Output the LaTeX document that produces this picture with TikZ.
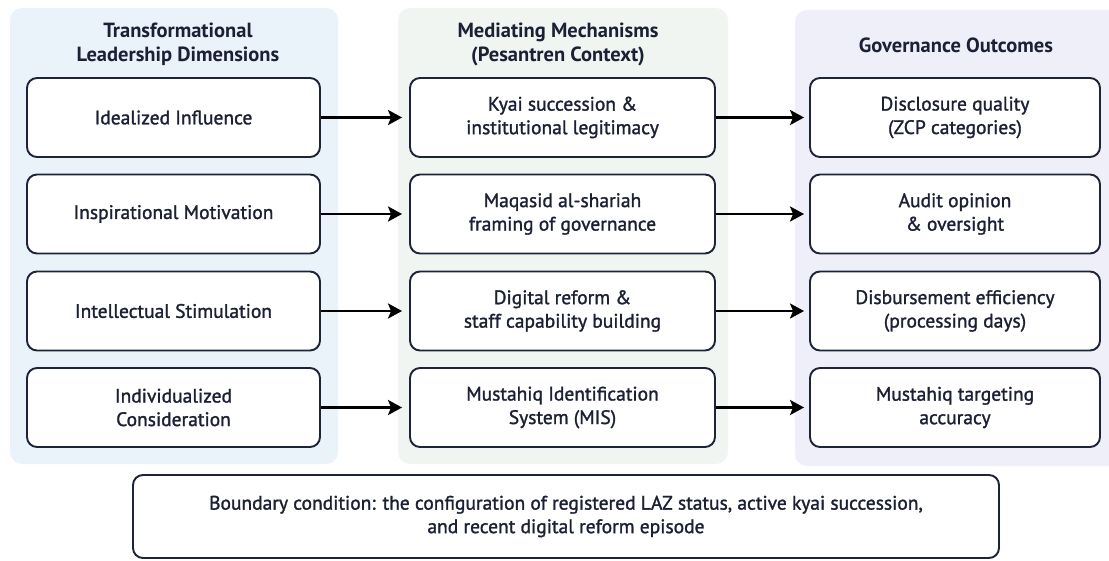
\documentclass[tikz,border=0pt]{standalone}
\usepackage{fontspec}
\setmainfont{PT Sans}
\newfontfamily\medfont[FakeBold=1.4]{PT Sans}
\usetikzlibrary{arrows.meta}
\definecolor{ink}{RGB}{27,32,52}
\definecolor{edge}{RGB}{30,36,56}
\definecolor{panelA}{RGB}{234,242,250}
\definecolor{panelB}{RGB}{240,245,242}
\definecolor{panelC}{RGB}{238,239,248}
\tikzset{
  panel/.style={fill=#1, draw=none, rounded corners=12pt},
  card/.style={draw=edge, line width=1.9pt, fill=white, rounded corners=10pt,
    align=center, text=ink, font=\medfont\fontsize{19.5}{23.5}\selectfont, inner sep=0pt},
  colhead/.style={align=center, text=ink, font=\fontsize{20.5}{24}\selectfont\bfseries},
  link/.style={-{Stealth[length=14pt,width=15pt,inset=3pt]}, line width=2.7pt, black}
}
\begin{document}
\begin{tikzpicture}[x=1pt,y=-1pt]
\clip (0,0) rectangle (1109,561);
\fill[white] (0,0) rectangle (1109,561);
% panels
\path[panel=panelA] (10,8) rectangle (338,464);
\path[panel=panelB] (398,8) rectangle (728,464);
\path[panel=panelC] (795,10) rectangle (1125,466);
% headers
\node[colhead] (hA) at (178,44) {Transformational\\Leadership Dimensions};
\node[colhead] (hB) at (558,44) {Mediating Mechanisms\\(Pesantren Context)};
\node[colhead] (hC) at (956,45) {Governance Outcomes};
% left column
\node[card, minimum width=293pt, minimum height=79pt] (l1) at (173.5,117.5) {Idealized Influence};
\node[card, minimum width=293pt, minimum height=79pt] (l2) at (173.5,214) {Inspirational Motivation};
\node[card, minimum width=293pt, minimum height=79pt] (l3) at (173.5,311) {Intellectual Stimulation};
\node[card, minimum width=293pt, minimum height=79pt] (l4) at (173.5,407.5) {Individualized\\Consideration};
% middle column
\node[card, minimum width=305pt, minimum height=79pt] (m1) at (562.5,117.5) {Kyai succession \&\\institutional legitimacy};
\node[card, minimum width=305pt, minimum height=79pt] (m2) at (562.5,214) {Maqasid al-shariah\\framing of governance};
\node[card, minimum width=305pt, minimum height=79pt] (m3) at (562.5,311) {Digital reform \&\\staff capability building};
\node[card, minimum width=305pt, minimum height=79pt] (m4) at (562.5,407.5) {Mustahiq Identification\\System (MIS)};
% right column
\node[card, minimum width=290pt, minimum height=79pt] (r1) at (955,117.5) {Disclosure quality\\(ZCP categories)};
\node[card, minimum width=290pt, minimum height=79pt] (r2) at (955,214) {Audit opinion\\\& oversight};
\node[card, minimum width=290pt, minimum height=79pt] (r3) at (955,311) {Disbursement efficiency\\(processing days)};
\node[card, minimum width=290pt, minimum height=79pt] (r4) at (955,407.5) {Mustahiq targeting\\accuracy};
% boundary
\node[card, minimum width=866pt, minimum height=83pt] (bc) at (566,516.5)
  {Boundary condition: the configuration of registered LAZ status, active kyai succession,\\and recent digital reform episode};
% arrows
\foreach \i in {1,2,3,4}{
  \draw[link, shorten >=7pt] (l\i.east) -- (m\i.west);
  \draw[link, shorten >=5pt] (m\i.east) -- (r\i.west);
}
\end{tikzpicture}
\end{document}
